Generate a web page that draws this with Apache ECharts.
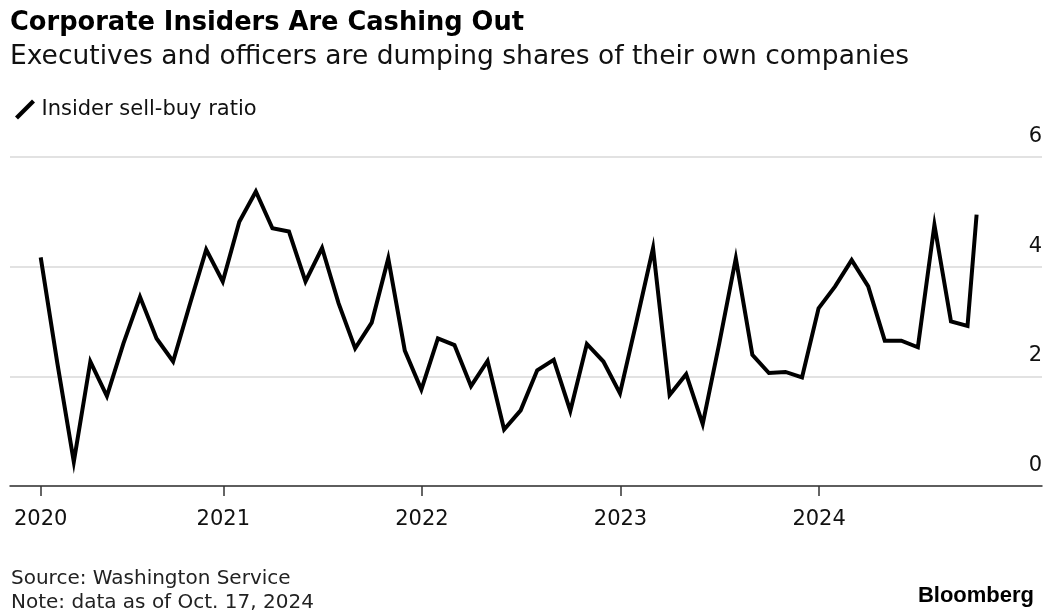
<!DOCTYPE html>
<html>
<head>
<meta charset="utf-8">
<script src="https://cdn.jsdelivr.net/npm/echarts@6/dist/echarts.min.js"></script>
<style>
html,body{margin:0;padding:0;background:#fff;}
#chart{width:1050px;height:611px;}
</style>
</head>
<body>
<div id="chart"></div>
<script>
// Insider sell-buy ratio, month-end readings (Jan..Dec), last point is Oct. 17, 2024
const values2020 = [4.17, 2.25, 0.44, 2.27, 1.64, 2.60, 3.45, 2.69, 2.27, 3.30, 4.31, 3.73];
const values2021 = [4.82, 5.37, 4.70, 4.64, 3.73, 4.34, 3.33, 2.51, 2.98, 4.15, 2.47, 1.76];
const values2022 = [2.69, 2.57, 1.82, 2.28, 1.03, 1.38, 2.11, 2.30, 1.37, 2.59, 2.27, 1.69];
const values2023 = [3.00, 4.34, 1.66, 2.04, 1.13, 2.60, 4.15, 2.39, 2.06, 2.08, 1.98, 3.24];
const values2024 = [3.64, 4.12, 3.64, 2.65, 2.65, 2.53, 4.76, 3.00, 2.92, 4.95];
const years = [2020, 2021, 2022, 2023, 2024];
const lastDay = 17; // data as of Oct. 17, 2024
const yearLabels = ['2020', '2021', '2022', '2023', '2024'];
const yTicks = [0, 2, 4, 6];

// build [x, y] where x = months since Jan 31, 2020 (month-end positions)
const allYears = [values2020, values2021, values2022, values2023, values2024];
const seriesData = [];
allYears.forEach(function (arr, yi) {
  arr.forEach(function (v, mi) {
    let x = yi * 12 + mi;
    const isLast = (yi === allYears.length - 1 && mi === arr.length - 1);
    if (isLast) {
      const dim = new Date(years[yi], mi + 1, 0).getDate();
      x = yi * 12 + mi - 1 + lastDay / dim;
    }
    seriesData.push([x, v]);
  });
});
// year tick positions: first data point for 2020, Jan 1 for later years
const yearTickPos = years.map(function (y, i) { return i === 0 ? 0 : i * 12 - 1 + 1 / 31; });

const FONT = 'DejaVu Sans';
const chart = echarts.init(document.getElementById('chart'), null, {renderer: 'canvas'});
chart.setOption({
  animation: false,
  backgroundColor: '#fff',
  grid: {left: 10, right: 8, top: 157, bottom: 125, containLabel: false},
  legend: {
    left: 10, top: 94,
    icon: 'path://M0,17 L17,0 L20,3 L3,20 Z',
    itemWidth: 21, itemHeight: 20,
    itemStyle: {color: '#000', borderWidth: 0},
    textStyle: {fontFamily: FONT, fontSize: 21, color: '#111', padding: [0, 0, 0, 1]},
    data: ['Insider sell-buy ratio']
  },
  xAxis: {
    type: 'value',
    min: -1.855, max: 60.5,
    axisLine: {show: true, lineStyle: {color: '#333', width: 1.5}},
    axisTick: {show: true, length: 10, lineStyle: {color: '#333', width: 1.5}, customValues: yearTickPos},
    axisLabel: {
      show: true, customValues: yearTickPos, margin: 23,
      fontFamily: FONT, fontSize: 21, color: '#111',
      formatter: function (v) {
        let best = 0;
        yearTickPos.forEach(function (p, i) { if (Math.abs(p - v) < Math.abs(yearTickPos[best] - v)) best = i; });
        return yearLabels[best];
      }
    },
    splitLine: {show: false}
  },
  yAxis: {
    type: 'value', position: 'right',
    min: yTicks[0], max: yTicks[yTicks.length - 1], interval: 2,
    axisLine: {show: false}, axisTick: {show: false},
    axisLabel: {
      inside: true, margin: 0, align: 'right', verticalAlign: 'bottom',
      padding: [0, 0, 10, 0],
      fontFamily: FONT, fontSize: 21, color: '#111'
    },
    splitLine: {show: true, lineStyle: {color: '#d8d8d8', width: 1.5}}
  },
  series: [{
    name: 'Insider sell-buy ratio',
    type: 'line',
    data: seriesData,
    showSymbol: false, symbol: 'none',
    lineStyle: {color: '#000', width: 4, join: 'miter'},
    itemStyle: {color: '#000'},
    z: 5
  }],
  graphic: [
    {type: 'text', left: 10, top: 10, style: {text: 'Corporate Insiders Are Cashing Out', fontFamily: FONT, fontWeight: 'bold', fontSize: 25.7, fill: '#000'}},
    {type: 'text', left: 10, top: 44, style: {text: 'Executives and officers are dumping shares of their own companies', fontFamily: FONT, fontSize: 26.5, fill: '#111'}},
    {type: 'text', left: 11, top: 569, style: {text: 'Source: Washington Service', fontFamily: FONT, fontSize: 20, fill: '#222'}},
    {type: 'text', left: 11, top: 593, style: {text: 'Note: data as of Oct. 17, 2024', fontFamily: FONT, fontSize: 20, fill: '#222'}},
    {type: 'text', right: 16, top: 585, style: {text: 'Bloomberg', fontFamily: 'Liberation Sans', fontWeight: 'bold', fontSize: 22, fill: '#000'}}
  ]
});
</script>
</body>
</html>
